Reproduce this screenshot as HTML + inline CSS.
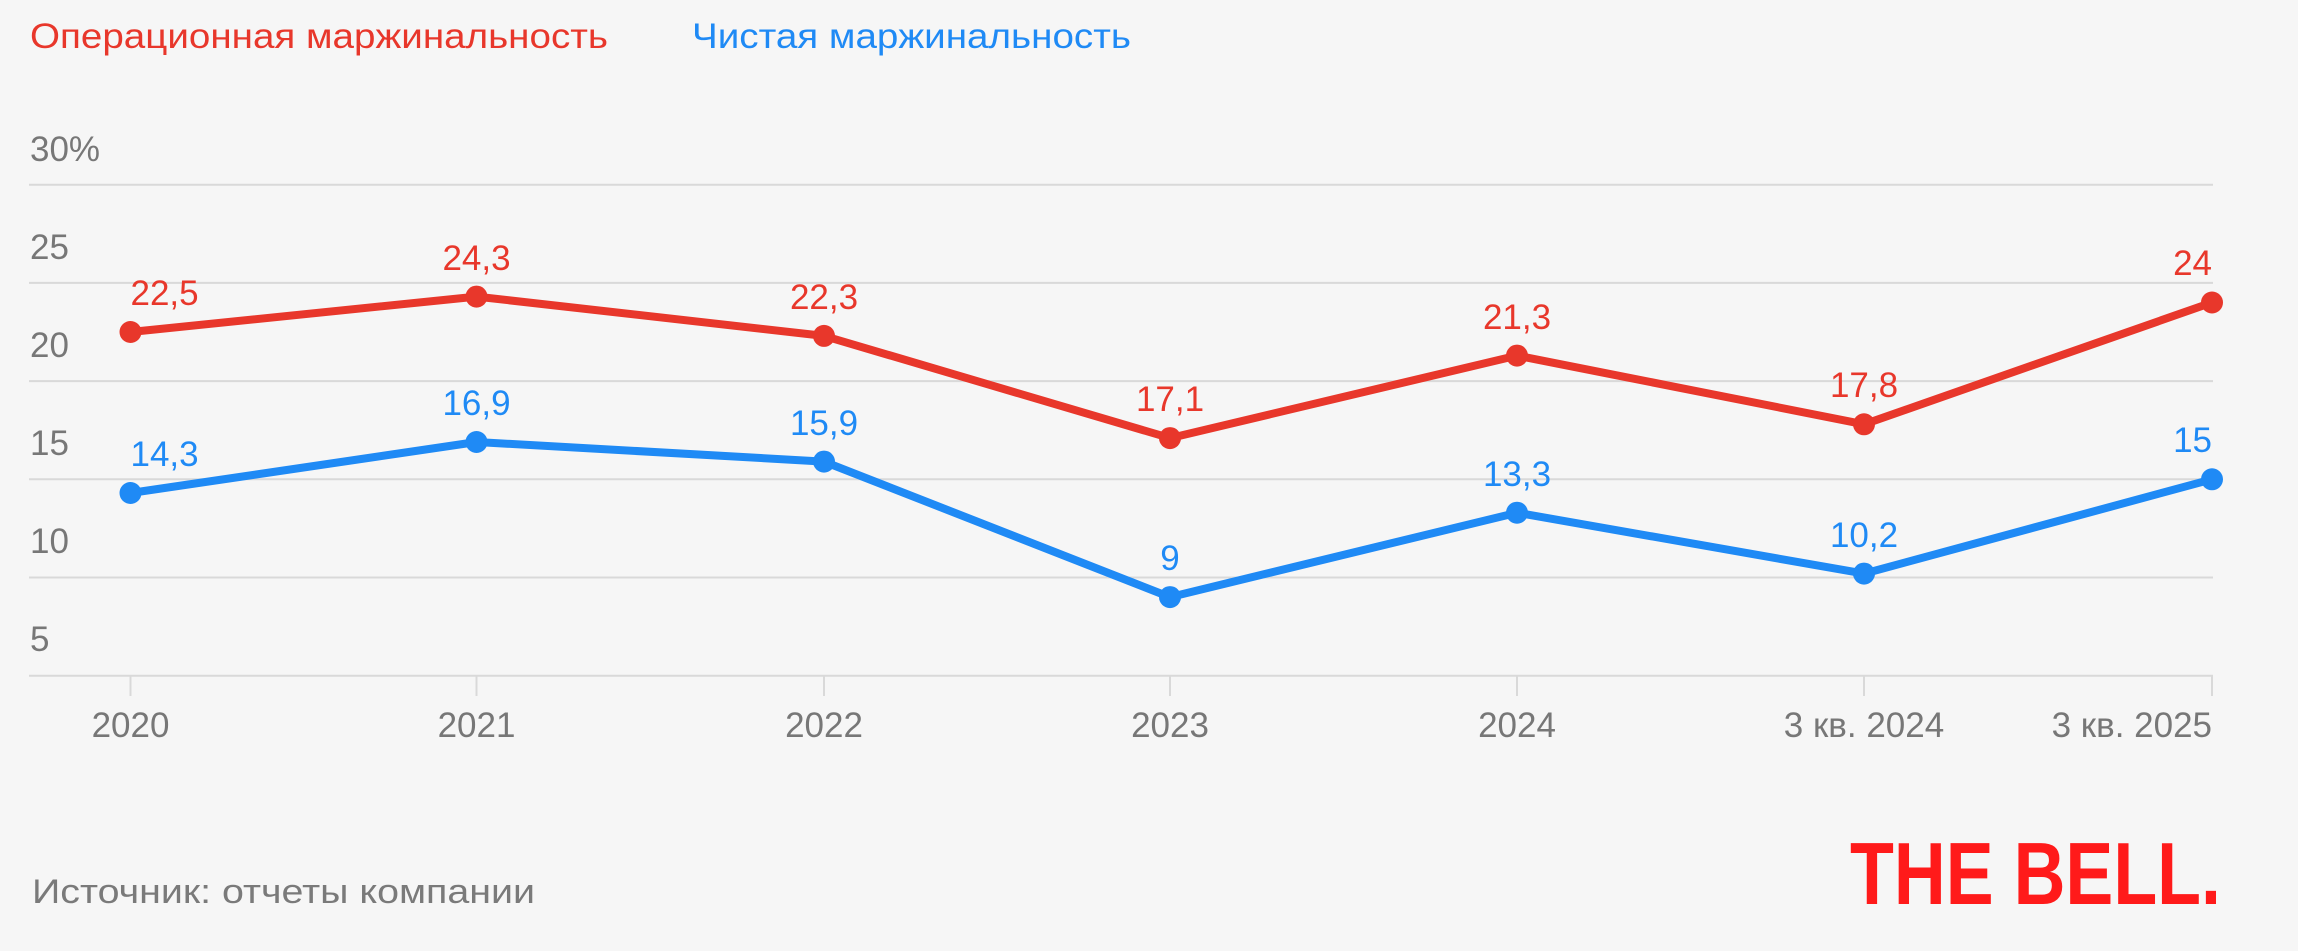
<!DOCTYPE html>
<html><head><meta charset="utf-8"><style>
html,body{margin:0;padding:0;background:#f6f6f6;}
svg{display:block;font-family:"Liberation Sans",sans-serif;}
</style></head><body>
<svg width="2298" height="951" viewBox="0 0 2298 951" xmlns="http://www.w3.org/2000/svg">
<rect width="2298" height="951" fill="#f6f6f6"/>
<text x="30" y="48" font-size="35" fill="#e8372b" textLength="578" lengthAdjust="spacingAndGlyphs">Операционная маржинальность</text>
<text x="692" y="48" font-size="35" fill="#1f8af5" textLength="439" lengthAdjust="spacingAndGlyphs">Чистая маржинальность</text>
<g stroke="#d9d9d9" stroke-width="2">
<line x1="29" x2="2213" y1="184.7" y2="184.7"/>
<line x1="29" x2="2213" y1="282.9" y2="282.9"/>
<line x1="29" x2="2213" y1="381.1" y2="381.1"/>
<line x1="29" x2="2213" y1="479.3" y2="479.3"/>
<line x1="29" x2="2213" y1="577.5" y2="577.5"/>
<line x1="29" x2="2213" y1="675.7" y2="675.7"/>
<line x1="130.5" x2="130.5" y1="676" y2="696"/>
<line x1="476.5" x2="476.5" y1="676" y2="696"/>
<line x1="824" x2="824" y1="676" y2="696"/>
<line x1="1170" x2="1170" y1="676" y2="696"/>
<line x1="1517" x2="1517" y1="676" y2="696"/>
<line x1="1864" x2="1864" y1="676" y2="696"/>
<line x1="2212" x2="2212" y1="676" y2="696"/>
</g>
<g font-size="35" fill="#777">
<text x="30" y="161">30%</text>
<text x="30" y="259">25</text>
<text x="30" y="357">20</text>
<text x="30" y="455">15</text>
<text x="30" y="553">10</text>
<text x="30" y="651">5</text>
</g>
<g font-size="35" fill="#777" text-anchor="middle">
<text x="130.5" y="737">2020</text>
<text x="476.5" y="737">2021</text>
<text x="824" y="737">2022</text>
<text x="1170" y="737">2023</text>
<text x="1517" y="737">2024</text>
<text x="1864" y="737">3 кв. 2024</text>
<text x="2212" y="737" text-anchor="end">3 кв. 2025</text>
</g>
<polyline fill="none" stroke="#e8372b" stroke-width="8" stroke-linejoin="round" points="130.5,332 476.5,296.6 824,335.9 1170,438.1 1517,355.6 1864,424.3 2212,302.5"/>
<polyline fill="none" stroke="#1f8af5" stroke-width="8" stroke-linejoin="round" points="130.5,493 476.5,442 824,461.6 1170,597.1 1517,512.7 1864,573.6 2212,479.3"/>
<g fill="#e8372b">
<circle cx="130.5" cy="332" r="11"/><circle cx="476.5" cy="296.6" r="11"/><circle cx="824" cy="335.9" r="11"/><circle cx="1170" cy="438.1" r="11"/><circle cx="1517" cy="355.6" r="11"/><circle cx="1864" cy="424.3" r="11"/><circle cx="2212" cy="302.5" r="11"/>
</g>
<g fill="#1f8af5">
<circle cx="130.5" cy="493" r="11"/><circle cx="476.5" cy="442" r="11"/><circle cx="824" cy="461.6" r="11"/><circle cx="1170" cy="597.1" r="11"/><circle cx="1517" cy="512.7" r="11"/><circle cx="1864" cy="573.6" r="11"/><circle cx="2212" cy="479.3" r="11"/>
</g>
<g font-size="35" fill="#e8372b" text-anchor="middle">
<text x="130.5" y="305" text-anchor="start">22,5</text>
<text x="476.5" y="270">24,3</text>
<text x="824" y="309">22,3</text>
<text x="1170" y="411">17,1</text>
<text x="1517" y="329">21,3</text>
<text x="1864" y="397">17,8</text>
<text x="2212" y="275" text-anchor="end">24</text>
</g>
<g font-size="35" fill="#1f8af5" text-anchor="middle">
<text x="130.5" y="466" text-anchor="start">14,3</text>
<text x="476.5" y="415">16,9</text>
<text x="824" y="435">15,9</text>
<text x="1170" y="570">9</text>
<text x="1517" y="486">13,3</text>
<text x="1864" y="547">10,2</text>
<text x="2212" y="452" text-anchor="end">15</text>
</g>
<text x="32" y="903" font-size="34" fill="#7a7a7a" textLength="503" lengthAdjust="spacingAndGlyphs">Источник: отчеты компании</text>
<text x="1850" y="904" font-size="88" font-weight="bold" fill="#ff1a1a" textLength="371" lengthAdjust="spacingAndGlyphs">THE BELL.</text>
</svg>
</body></html>
